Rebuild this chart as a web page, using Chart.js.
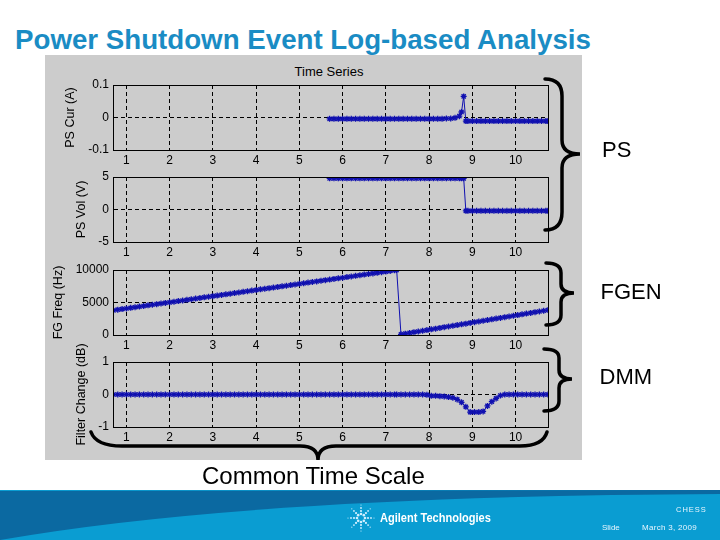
<!DOCTYPE html>
<html>
<head>
<meta charset="utf-8">
<script src="https://cdn.jsdelivr.net/npm/chart.js@4"></script>
<style>
  body { margin: 0; width: 720px; height: 540px; position: relative; overflow: hidden; background: #fff;
         font-family: "Liberation Sans", Arial, sans-serif; }
  .abs { position: absolute; line-height: 1; white-space: nowrap; }
  #title { left: 15px; top: 26px; font-size: 27.7px; font-weight: bold; color: #1a8cc4; }
  #fig { left: 45px; top: 55px; width: 537px; height: 405px; background: #cccccc; }
  #fig canvas { position: absolute; left: 0; }
  #ts { left: 0; width: 568px; top: 9.5px; font-size: 13px; text-align: center; color: #000; }
  .grp { font-size: 22px; color: #000; }
  #overlay { position: absolute; left: 0; top: 0; pointer-events: none; }
</style>
</head>
<body>
<div id="title" class="abs">Power Shutdown Event Log-based Analysis</div>
<div id="fig" class="abs">
  <div id="ts" class="abs">Time Series</div>
  <canvas id="c1" width="537" height="97"></canvas>
  <canvas id="c2" width="537" height="97"></canvas>
  <canvas id="c3" width="537" height="97"></canvas>
  <canvas id="c4" width="537" height="97"></canvas>
</div>

<svg id="overlay" width="720" height="540">
  <!-- footer band -->
  <rect x="0" y="490" width="720" height="50" fill="#0a9dd2"/>
  <path d="M0,491 L720,490 L720,494 Q250,496 0,540 Z" fill="#0b69a1"/>
  <g fill="#cfefff" id="spark"></g>
  <!-- braces -->
  <g fill="none" stroke="#000" stroke-width="3.5" stroke-linecap="round">
    <path d="M545,79 Q562,79 562,96 L562,140 Q562,154 580,154 Q562,154 562,168 L562,212 Q562,230 545,230"/>
    <path d="M546,263 Q561,263 561,273 L561,284 Q561,293 574,293 Q561,293 561,302 L561,315 Q561,325 546,325"/>
    <path d="M544,349 Q559,349 559,358 L559,370 Q559,379 572,379 Q559,379 559,388 L559,401 Q559,411 544,411"/>
    <path d="M91,432 Q96,446 122,446 L300,446 Q318,446 318,460 Q318,446 336,446 L520,446 Q543,446 547,432"/>
  </g>
</svg>

<div class="abs grp" style="left:602px;top:139px">PS</div>
<div class="abs grp" style="left:600.5px;top:281px">FGEN</div>
<div class="abs grp" style="left:599.5px;top:365.5px">DMM</div>
<div class="abs" style="left:202px;top:464px;font-size:24px">Common Time Scale</div>

<div class="abs" style="left:380px;top:512px;font-size:12px;font-weight:bold;color:#fff;transform:scaleX(0.92);transform-origin:left center">Agilent Technologies</div>
<div class="abs" style="left:676px;top:506px;font-size:7.5px;letter-spacing:1px;color:#e8f6ff">CHESS</div>
<div class="abs" style="left:602px;top:524px;font-size:8px;color:#e8f6ff">Slide</div>
<div class="abs" style="left:642px;top:524px;font-size:8px;letter-spacing:0.3px;color:#e8f6ff">March 3, 2009</div>

<script>
// ---- data ----
const xTicks = [1, 2, 3, 4, 5, 6, 7, 8, 9, 10];

// power supply log (time axis shared by current and voltage)
const psTime = [5.7, 5.8, 5.9, 6.0, 6.1, 6.2, 6.3, 6.4, 6.5, 6.6, 6.7, 6.8, 6.9, 7.0, 7.1, 7.2,
  7.3, 7.4, 7.5, 7.6, 7.7, 7.8, 7.9, 8.0, 8.1, 8.2, 8.3, 8.4, 8.5, 8.6, 8.7, 8.75, 8.8, 8.85,
  8.9, 9.0, 9.1, 9.2, 9.3, 9.4, 9.5, 9.6, 9.7, 9.8, 9.9, 10.0, 10.1, 10.2, 10.3, 10.4, 10.5,
  10.6, 10.7, 10.75];
const psCurrent = [-0.004, -0.004, -0.004, -0.004, -0.004, -0.004, -0.004, -0.004, -0.004, -0.004,
  -0.004, -0.004, -0.004, -0.004, -0.004, -0.004, -0.004, -0.004, -0.004, -0.004, -0.004, -0.004,
  -0.004, -0.004, -0.004, -0.004, -0.004, -0.003, -0.003, -0.001, 0.004, 0.017, 0.065, -0.011,
  -0.011, -0.011, -0.011, -0.011, -0.011, -0.011, -0.011, -0.011, -0.011, -0.011, -0.011, -0.011,
  -0.011, -0.011, -0.011, -0.011, -0.011, -0.011, -0.011, -0.011];
const psVoltage = [4.8, 4.8, 4.8, 4.8, 4.8, 4.8, 4.8, 4.8, 4.8, 4.8, 4.8, 4.8, 4.8, 4.8, 4.8, 4.8,
  4.8, 4.8, 4.8, 4.8, 4.8, 4.8, 4.8, 4.8, 4.8, 4.8, 4.8, 4.8, 4.8, 4.8, 4.8, 4.8, 4.8, -0.2,
  -0.2, -0.2, -0.2, -0.2, -0.2, -0.2, -0.2, -0.2, -0.2, -0.2, -0.2, -0.2, -0.2, -0.2, -0.2, -0.2,
  -0.2, -0.2, -0.2, -0.2];
const curTicks = [-0.1, 0, 0.1];
const volTicks = [-5, 0, 5];

// function generator + DMM log (shared time axis)
const fgTime = [0.7, 0.8, 0.9, 1.0, 1.1, 1.2, 1.3, 1.4, 1.5, 1.6, 1.7, 1.8, 1.9, 2.0, 2.1, 2.2,
  2.3, 2.4, 2.5, 2.6, 2.7, 2.8, 2.9, 3.0, 3.1, 3.2, 3.3, 3.4, 3.5, 3.6, 3.7, 3.8, 3.9, 4.0, 4.1,
  4.2, 4.3, 4.4, 4.5, 4.6, 4.7, 4.8, 4.9, 5.0, 5.1, 5.2, 5.3, 5.4, 5.5, 5.6, 5.7, 5.8, 5.9, 6.0,
  6.1, 6.2, 6.3, 6.4, 6.5, 6.6, 6.7, 6.8, 6.9, 7.0, 7.1, 7.2, 7.25,
  7.35, 7.45, 7.55, 7.65, 7.75, 7.85, 7.95, 8.05, 8.15, 8.25, 8.35, 8.45, 8.55, 8.65, 8.75, 8.85,
  8.95, 9.05, 9.15, 9.25, 9.35, 9.45, 9.55, 9.65, 9.75, 9.85, 9.95, 10.05, 10.15, 10.25, 10.35,
  10.45, 10.55, 10.65, 10.75];
const fgFreq = [3800, 3900, 3990, 4080, 4180, 4270, 4370, 4460, 4560, 4650,
  4750, 4840, 4940, 5030, 5120, 5220, 5310, 5410, 5500, 5600,
  5690, 5790, 5880, 5980, 6070, 6170, 6260, 6350, 6450, 6540,
  6640, 6730, 6830, 6920, 7020, 7110, 7210, 7300, 7400, 7490,
  7580, 7680, 7770, 7870, 7960, 8060, 8150, 8250, 8340, 8440,
  8530, 8630, 8720, 8810, 8910, 9000, 9100, 9190, 9290, 9380,
  9480, 9570, 9670, 9760, 9850, 9950, 10000,
  100, 210, 320, 430, 540, 650, 760, 870, 980, 1090, 1200, 1310, 1420, 1530, 1640, 1750,
  1860, 1970, 2080, 2190, 2300, 2410, 2520, 2630, 2740, 2850, 2960, 3070, 3180, 3290, 3400,
  3510, 3620, 3730, 3840];
const filterChange = [0, 0, 0, 0, 0, 0, 0, 0, 0, 0, 0, 0, 0, 0, 0, 0, 0, 0, 0, 0, 0, 0,
  0, 0, 0, 0, 0, 0, 0, 0, 0, 0, 0, 0, 0, 0, 0, 0, 0, 0, 0, 0, 0, 0, 0, 0, 0, 0, 0, 0, 0, 0,
  0, 0, 0, 0, 0, 0, 0, 0, 0, 0, 0, 0, 0, 0, 0,
  0, 0, 0, 0, 0, 0, -0.01, -0.04, -0.04, -0.05, -0.06, -0.08, -0.1, -0.15, -0.24, -0.38,
  -0.54, -0.54, -0.54, -0.52, -0.35, -0.22, -0.12, -0.03, 0, 0, 0, 0, 0, 0, 0,
  0, 0, 0, 0];
const freqTicks = [0, 5000, 10000];
const filterTicks = [-1, 0, 1];

// ---- drawing ----
const X_MIN = 0.69, X_MAX = 10.75;
const BLUE = '#1010b0';
const FIG_TOP = 55;

// MATLAB-style solid box round each axes
const frameBox = {
  id: 'frameBox',
  afterDraw(chart) {
    const a = chart.chartArea, ctx = chart.ctx;
    ctx.save();
    ctx.strokeStyle = '#000';
    ctx.lineWidth = 1;
    ctx.setLineDash([]);
    ctx.strokeRect(Math.round(a.left) + 0.5, Math.round(a.top) + 0.5,
      Math.round(a.right) - Math.round(a.left), Math.round(a.bottom) - Math.round(a.top));
    ctx.restore();
  }
};

const panels = [
  { id: 'c1', top: 85, h: 65, title: 'PS Cur (A)', tx: 71, time: psTime, vals: psCurrent, ticks: curTicks },
  { id: 'c2', top: 177, h: 65, title: 'PS Vol (V)', tx: 82, time: psTime, vals: psVoltage, ticks: volTicks },
  { id: 'c3', top: 270, h: 65, title: 'FG Freq (Hz)', tx: 59, time: fgTime, vals: fgFreq, ticks: freqTicks },
  { id: 'c4', top: 362, h: 65, title: 'Filter Change (dB)', tx: 82, time: fgTime, vals: filterChange, ticks: filterTicks },
];

const PAD_TOP = 26, X_AXIS_H = 22, PLOT_LEFT = 68, PAD_RIGHT = 34;

panels.forEach(p => {
  const cv = document.getElementById(p.id);
  cv.height = PAD_TOP + p.h + X_AXIS_H;
  cv.style.top = (p.top - PAD_TOP - FIG_TOP) + 'px';
  const padLeft = p.tx - 45 - 7.5;
  const yMin = p.ticks[0], yMax = p.ticks[p.ticks.length - 1];

  new Chart(cv, {
    type: 'line',
    data: {
      datasets: [{
        data: p.time.map((t, i) => ({ x: t, y: p.vals[i] })),
        borderColor: BLUE,
        borderWidth: 1,
        pointStyle: 'star',
        pointRadius: 3,
        pointBorderWidth: 1.3,
        pointBorderColor: BLUE,
        pointBackgroundColor: BLUE,
        tension: 0,
      }],
    },
    options: {
      responsive: false,
      animation: false,
      devicePixelRatio: 1,
      layout: { padding: { top: PAD_TOP, right: PAD_RIGHT, left: padLeft, bottom: 0 } },
      plugins: { legend: { display: false }, tooltip: { enabled: false } },
      scales: {
        x: {
          type: 'linear', min: X_MIN, max: X_MAX,
          afterBuildTicks: s => { s.ticks = xTicks.map(v => ({ value: v })); },
          afterFit: s => { s.height = X_AXIS_H; },
          grid: { color: '#000', lineWidth: 1, drawTicks: false },
          border: { display: true, color: '#000', dash: [4, 3] },
          ticks: { color: '#000', padding: 3, font: { family: 'Liberation Sans', size: 12 }, maxRotation: 0 },
        },
        y: {
          type: 'linear', min: yMin, max: yMax,
          afterBuildTicks: s => { s.ticks = p.ticks.map(v => ({ value: v })); },
          afterFit: s => { s.width = PLOT_LEFT - padLeft; },
          grid: { color: '#000', lineWidth: 1, drawTicks: false },
          border: { display: true, color: '#000', dash: [4, 3] },
          ticks: { color: '#000', padding: 4, font: { family: 'Liberation Sans', size: 12 },
                   callback: v => String(v) },
          title: { display: true, text: p.title, color: '#000', padding: { top: 0, bottom: 0 },
                   font: { family: 'Liberation Sans', size: 12.5 } },
        },
      },
    },
    plugins: [frameBox],
  });
});

// Agilent spark logo
const spark = document.getElementById('spark');
for (let k = 0; k < 8; k++) {
  const a = k * Math.PI / 4;
  [[4, 1.3], [7, 1.1], [10, 0.9], [13, 0.6]].forEach(([d, r]) => {
    const c = document.createElementNS('http://www.w3.org/2000/svg', 'circle');
    c.setAttribute('cx', 361 + d * Math.cos(a));
    c.setAttribute('cy', 518 + d * Math.sin(a));
    c.setAttribute('r', r);
    spark.appendChild(c);
  });
}
</script>
</body>
</html>
